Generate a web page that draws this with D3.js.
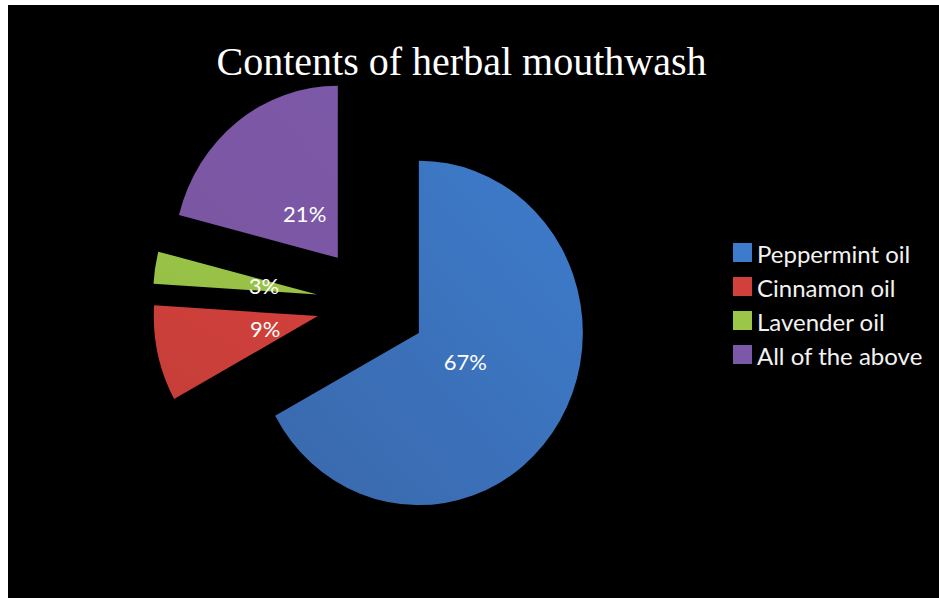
<!DOCTYPE html>
<html>
<head>
<meta charset="utf-8">
<script src="https://cdn.jsdelivr.net/npm/d3@7"></script>
<style>
  html, body { margin: 0; padding: 0; background: #ffffff; }
  svg { display: block; }
</style>
</head>
<body>
<svg id="chart" width="939" height="598"></svg>
<script>
// ---- data ----
const categories = ["Peppermint oil", "Cinnamon oil", "Lavender oil", "All of the above"];
const values = [67, 9, 3, 21];
const colors = ["#3d7ccc", "#d2403b", "#9bc648", "#7c58a8"];
const colorsDark = ["#3a68ab", "#c53e39", "#95bf45", "#7a56a2"];
const title = "Contents of herbal mouthwash";

// ---- layout ----
const W = 939, H = 598;
const cx = 371.5, cy = 303.5;     // pie centre before explosion
const r = 164;                   // radius
const ky = 1.05;                 // vertical stretch of the picture
const explode = 55;              // distance each slice is pulled out
const labelR = 54;               // label distance from slice apex

const svg = d3.select("#chart");
svg.append("rect").attr("x", 8).attr("y", 5).attr("width", W - 8).attr("height", H - 5).attr("fill", "#000");

const defs = svg.append("defs");
colors.forEach((c, i) => {
  const g = defs.append("linearGradient").attr("id", "grad" + i)
    .attr("x1", "100%").attr("y1", "0%").attr("x2", "0%").attr("y2", "100%");
  g.append("stop").attr("offset", "0%").attr("stop-color", c);
  g.append("stop").attr("offset", "100%").attr("stop-color", colorsDark[i]);
});

svg.append("text")
  .attr("x", 461.5).attr("y", 75)
  .attr("text-anchor", "middle")
  .attr("font-family", "'Liberation Serif', 'Times New Roman', serif")
  .attr("font-size", 40)
  .attr("fill", "#ffffff")
  .text(title);

const pie = d3.pie().sort(null).value(d => d)(values);
const arc = d3.arc().innerRadius(0).outerRadius(r);
const total = d3.sum(values);

const pieG = svg.append("g").attr("transform", `translate(${cx},${cy}) scale(1,${ky})`);
pie.forEach((p, i) => {
  const mid = (p.startAngle + p.endAngle) / 2;
  const dx = Math.sin(mid) * explode, dy = -Math.cos(mid) * explode;
  pieG.append("path")
    .attr("transform", `translate(${dx},${dy})`)
    .attr("d", arc(p))
    .attr("fill", `url(#grad${i})`);
});

pie.forEach((p, i) => {
  const mid = (p.startAngle + p.endAngle) / 2;
  const d = explode + labelR;
  const x = cx + Math.sin(mid) * d;
  const y = cy - Math.cos(mid) * d * ky;
  svg.append("text")
    .attr("x", x).attr("y", y)
    .attr("text-anchor", "middle")
    .attr("dominant-baseline", "central")
    .attr("font-family", "Lato, 'Open Sans', sans-serif")
    .attr("font-size", 22)
    .attr("fill", "#ffffff")
    .text(Math.round(values[i] / total * 100) + "%");
});

// legend
const lg = svg.append("g").attr("transform", "translate(733,243)");
categories.forEach((c, i) => {
  const row = lg.append("g").attr("transform", `translate(0,${i * 34})`);
  row.append("rect").attr("width", 19).attr("height", 19).attr("fill", colors[i]);
  row.append("text")
    .attr("x", 24).attr("y", 10)
    .attr("dominant-baseline", "central")
    .attr("font-family", "Lato, 'Open Sans', sans-serif")
    .attr("font-size", 24)
    .attr("fill", "#f2f2f2")
    .text(c);
});
</script>
</body>
</html>
